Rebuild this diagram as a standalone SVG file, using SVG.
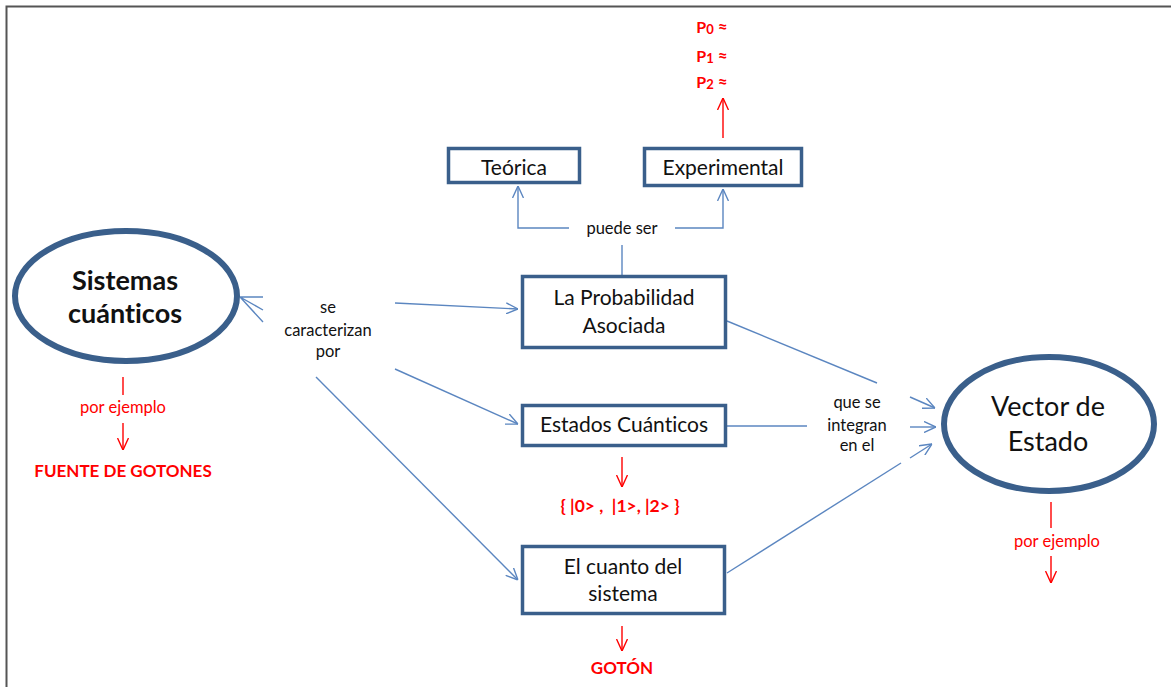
<svg xmlns="http://www.w3.org/2000/svg" width="1171" height="687" viewBox="0 0 1171 687">
  <style>
    .box { fill: #fff; stroke: #3A5F8B; stroke-width: 3.5; }
    .oval { fill: #fff; stroke: #3A5F8B; stroke-width: 6; }
    .t { font-family: Lato, "Open Sans", sans-serif; fill: #111; text-anchor: middle; font-variant-ligatures: none; }
    .boxt { font-size: 21px; }
    .lbl { font-size: 16.5px; }
    .red { fill: #FF0000; }
    .bold { font-weight: bold; }
    .con { stroke: #5B86C0; stroke-width: 1.4; fill: none; }
    .rcon { stroke: #FF0000; stroke-width: 1.4; fill: none; }
  </style>
  <defs>
    <marker id="ab" viewBox="0 0 12 12" refX="12" refY="6" markerWidth="12" markerHeight="12" markerUnits="userSpaceOnUse" orient="auto">
      <path d="M0,0.5 L12,6 L0,11.5" fill="none" stroke="#5B86C0" stroke-width="1.4"/>
    </marker>
    <marker id="ar" viewBox="0 0 12 12" refX="12" refY="6" markerWidth="12" markerHeight="12" markerUnits="userSpaceOnUse" orient="auto">
      <path d="M0,0.5 L12,6 L0,11.5" fill="none" stroke="#FF0000" stroke-width="1.4"/>
    </marker>
  </defs>

  <rect width="1171" height="687" fill="#fff"/>
  <!-- page frame -->
  <path d="M6.5,687 V6.5 H1171" fill="none" stroke="#555" stroke-width="2"/>

  <g id="connectors">
    <!-- se caracterizan por -->
    <path class="con" d="M263,297 L240,297 L263,322 M263,310 L240,297"/>
    <line class="con" x1="395" y1="303" x2="518" y2="309" marker-end="url(#ab)"/>
    <line class="con" x1="395" y1="369" x2="518" y2="424" marker-end="url(#ab)"/>
    <line class="con" x1="316" y1="377" x2="518" y2="580" marker-end="url(#ab)"/>
    <!-- puede ser -->
    <line class="con" x1="622" y1="275" x2="622" y2="245"/>
    <polyline class="con" points="569,228 518,228 518,186" marker-end="url(#ab)"/>
    <polyline class="con" points="675,228 723,228 723,189" marker-end="url(#ab)"/>
    <!-- que se integran en el -->
    <line class="con" x1="727" y1="321" x2="877" y2="383"/>
    <line class="con" x1="910" y1="397" x2="935" y2="408" marker-end="url(#ab)"/>
    <line class="con" x1="727" y1="426" x2="807" y2="426"/>
    <line class="con" x1="910" y1="427" x2="936" y2="427" marker-end="url(#ab)"/>
    <line class="con" x1="727" y1="573" x2="901" y2="463"/>
    <line class="con" x1="910" y1="458" x2="932" y2="444" marker-end="url(#ab)"/>
    <!-- red examples -->
    <line class="rcon" x1="723" y1="138" x2="723" y2="98" marker-end="url(#ar)"/>
    <line class="rcon" x1="123" y1="377" x2="123" y2="395"/>
    <line class="rcon" x1="123" y1="423" x2="123" y2="450" marker-end="url(#ar)"/>
    <line class="rcon" x1="622" y1="457" x2="622" y2="487" marker-end="url(#ar)"/>
    <line class="rcon" x1="622" y1="626" x2="622" y2="651" marker-end="url(#ar)"/>
    <line class="rcon" x1="1051" y1="502" x2="1051" y2="528"/>
    <line class="rcon" x1="1051" y1="556" x2="1051" y2="583" marker-end="url(#ar)"/>
  </g>

  <g id="lbl-caracterizan">
    <text class="t lbl" x="328" y="313">se</text>
    <text class="t lbl" x="328" y="336">caracterizan</text>
    <text class="t lbl" x="328" y="357">por</text>
  </g>
  <g id="lbl-puede">
    <text class="t lbl" x="622" y="234">puede ser</text>
  </g>
  <g id="lbl-integran">
    <text class="t lbl" x="857" y="408">que se</text>
    <text class="t lbl" x="857" y="431">integran</text>
    <text class="t lbl" x="857" y="451">en el</text>
  </g>

  <g id="sistemas">
    <ellipse class="oval" cx="126" cy="296" rx="111" ry="65"/>
    <text class="t bold" x="125" y="290" font-size="27">Sistemas</text>
    <text class="t bold" x="125" y="323" font-size="27">cuánticos</text>
  </g>
  <g id="sistemas-ejemplo">
    <text class="t lbl red" x="123" y="413">por ejemplo</text>
    <text class="t red bold" x="123" y="477" font-size="17">FUENTE DE GOTONES</text>
  </g>

  <g id="probabilidad">
    <rect class="box" x="522.5" y="276.5" width="203" height="71"/>
    <text class="t boxt" x="624" y="305">La Probabilidad</text>
    <text class="t boxt" x="624" y="333">Asociada</text>
  </g>
  <g id="teorica">
    <rect class="box" x="448.5" y="148.5" width="131" height="34"/>
    <text class="t boxt" x="514" y="175">Teórica</text>
  </g>
  <g id="experimental">
    <rect class="box" x="644.5" y="148.5" width="157" height="37"/>
    <text class="t boxt" x="723" y="175">Experimental</text>
  </g>
  <g id="probabilidades">
    <text class="t red bold" x="712" y="33" font-size="16">P<tspan font-size="13" dy="1">0</tspan><tspan dy="-1" font-size="17"> ≈</tspan></text>
    <text class="t red bold" x="712" y="62" font-size="16">P<tspan font-size="13" dy="1">1</tspan><tspan dy="-1" font-size="17"> ≈</tspan></text>
    <text class="t red bold" x="712" y="88" font-size="16">P<tspan font-size="13" dy="1">2</tspan><tspan dy="-1" font-size="17"> ≈</tspan></text>
  </g>

  <g id="estados">
    <rect class="box" x="522.5" y="405.5" width="203" height="40"/>
    <text class="t boxt" x="624" y="432">Estados Cuánticos</text>
  </g>
  <g id="estados-ejemplo">
    <text class="t red bold" x="620" y="512" font-size="17.5" xml:space="preserve">{ |0&gt; ,  |1&gt;, |2&gt; }</text>
  </g>

  <g id="cuanto">
    <rect class="box" x="522.5" y="546.5" width="202" height="67"/>
    <text class="t boxt" x="623" y="574">El cuanto del</text>
    <text class="t boxt" x="623" y="601">sistema</text>
  </g>
  <g id="cuanto-ejemplo">
    <text class="t red bold" x="622" y="674" font-size="17">GOTÓN</text>
  </g>

  <g id="vector">
    <ellipse class="oval" cx="1049" cy="424" rx="105" ry="67"/>
    <text class="t" x="1048" y="416" font-size="27">Vector de</text>
    <text class="t" x="1048" y="451" font-size="27">Estado</text>
  </g>
  <g id="vector-ejemplo">
    <text class="t lbl red" x="1057" y="547">por ejemplo</text>
  </g>
</svg>
